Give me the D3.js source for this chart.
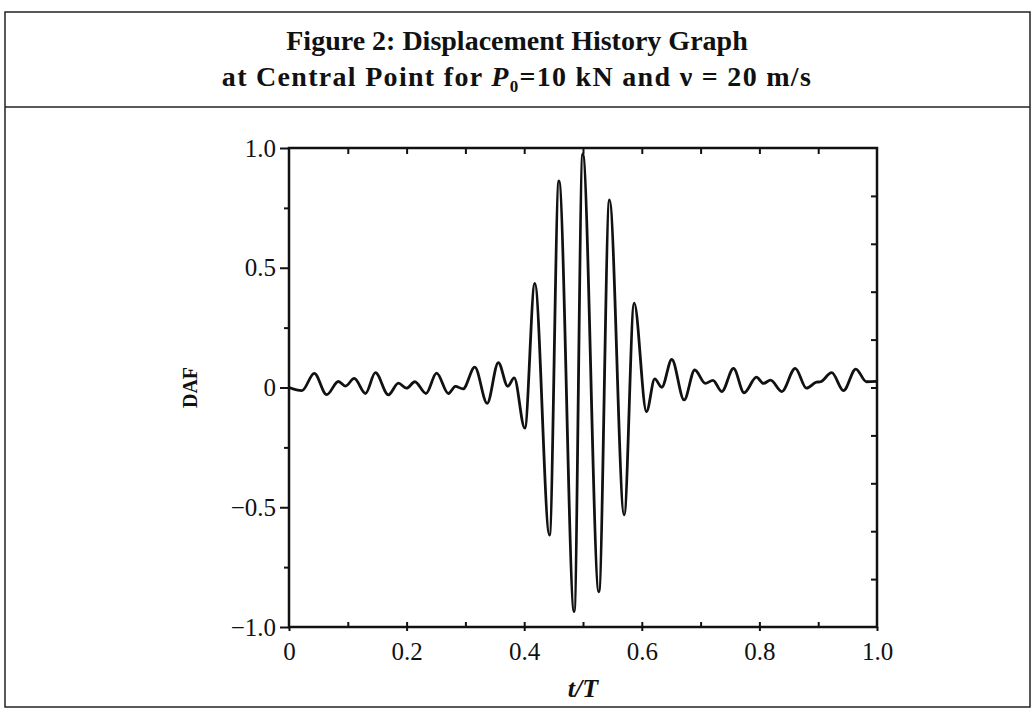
<!DOCTYPE html>
<html>
<head>
<meta charset="utf-8">
<script src="https://cdn.jsdelivr.net/npm/d3@7"></script>
<style>
    body { margin: 0; background: #fff; }
    text { font-family: "Liberation Serif", "DejaVu Serif", serif; fill: #111; }
</style>
</head>
<body>
<div id="chart"></div>
<script>
// t/T positions and DAF values (peaks and troughs)
var tValues = [0.000, 0.022, 0.043, 0.064, 0.084, 0.096, 0.111, 0.130, 0.147, 0.169,
    0.186, 0.200, 0.214, 0.233, 0.251, 0.271, 0.283, 0.296, 0.316, 0.337,
    0.356, 0.372, 0.383, 0.401, 0.418, 0.443, 0.459, 0.485, 0.4995, 0.527,
    0.545, 0.570, 0.587, 0.608, 0.622, 0.634, 0.651, 0.672, 0.690, 0.708,
    0.721, 0.736, 0.756, 0.774, 0.795, 0.807, 0.819, 0.838, 0.861, 0.880,
    0.897, 0.904, 0.923, 0.943, 0.964, 0.982, 1.000];
var dafValues = [0.000, -0.013, 0.059, -0.030, 0.025, 0.006, 0.038, -0.025, 0.062, -0.031,
    0.018, -0.003, 0.024, -0.025, 0.060, -0.025, 0.005, -0.006, 0.085, -0.066,
    0.104, 0.005, 0.040, -0.170, 0.435, -0.616, 0.863, -0.936, 0.975, -0.853,
    0.783, -0.532, 0.352, -0.101, 0.036, 0.001, 0.117, -0.052, 0.073, 0.017,
    0.030, -0.017, 0.080, -0.022, 0.043, 0.017, 0.031, -0.017, 0.080, -0.003,
    0.022, 0.024, 0.062, -0.013, 0.077, 0.024, 0.026];

var xTickLabels = [0, 0.2, 0.4, 0.6, 0.8, 1.0];
var yTickLabels = [-1.0, -0.5, 0, 0.5, 1.0];

var svgWidth = 1035;
var svgHeight = 711;

var margin = { top: 148, right: 158, bottom: 84, left: 289 };
var width = 877 - margin.left;
var height = 627 - margin.top;

var svg = d3.select("#chart")
    .append("svg")
    .attr("width", svgWidth)
    .attr("height", svgHeight);

// outer frame and title band
svg.append("rect")
    .attr("x", 5)
    .attr("y", 12)
    .attr("width", 1025)
    .attr("height", 695)
    .attr("fill", "none")
    .attr("stroke", "#222")
    .attr("stroke-width", 1.5);

svg.append("line")
    .attr("x1", 5).attr("x2", 1030)
    .attr("y1", 107).attr("y2", 107)
    .attr("stroke", "#222")
    .attr("stroke-width", 1.5);

svg.append("text")
    .attr("x", 517)
    .attr("y", 50)
    .attr("text-anchor", "middle")
    .style("font-size", "28px")
    .style("font-weight", "bold")
    .text("Figure 2: Displacement History Graph");

var title2 = svg.append("text")
    .attr("x", 517)
    .attr("y", 86)
    .attr("text-anchor", "middle")
    .style("font-size", "28px")
    .style("font-weight", "bold")
    .style("letter-spacing", "1.3px");
title2.append("tspan").text("at Central Point for ");
title2.append("tspan").style("font-style", "italic").text("P");
title2.append("tspan").attr("dy", 6).style("font-size", "17px").text("0");
title2.append("tspan").attr("dy", -6).text("=10 kN and ν = 20 m/s");

var chartGroup = svg.append("g")
    .attr("transform", `translate(${margin.left}, ${margin.top})`);

// Scales
var xScale = d3.scaleLinear().domain([0, 1]).range([0, width]);
var yScale = d3.scaleLinear().domain([-1, 1]).range([height, 0]);

// Axes
var leftMinor = d3.axisLeft(yScale)
    .tickValues([-0.75, -0.25, 0.25, 0.75])
    .tickSize(5)
    .tickFormat("");
var leftAxis = d3.axisLeft(yScale)
    .tickValues(yTickLabels)
    .tickSize(9)
    .tickPadding(4)
    .tickFormat(d => d === 0 ? "0" : d3.format(".1f")(d).replace("-", "−"));
var bottomMinor = d3.axisBottom(xScale)
    .tickValues(d3.range(1, 10).map(i => i / 10))
    .tickSize(-5)
    .tickFormat("");
var bottomAxis = d3.axisBottom(xScale)
    .tickValues(xTickLabels)
    .tickSize(4)
    .tickPadding(11)
    .tickFormat(d => d === 0 ? "0" : d3.format(".1f")(d));
var topAxis = d3.axisTop(xScale)
    .tickValues(d3.range(1, 10).map(i => i / 10))
    .tickSize(-6)
    .tickFormat("");
var rightAxis = d3.axisRight(yScale)
    .tickValues([-0.8, -0.6, -0.4, -0.2, 0, 0.2, 0.4, 0.6, 0.8])
    .tickSize(-6)
    .tickFormat("");

chartGroup.append("g").attr("class", "axis").call(leftMinor);
chartGroup.append("g").attr("class", "axis").call(leftAxis);
chartGroup.append("g").attr("class", "axis")
    .attr("transform", `translate(0, ${height})`).call(bottomMinor);
chartGroup.append("g").attr("class", "axis")
    .attr("transform", `translate(0, ${height})`).call(bottomAxis);
chartGroup.append("g").attr("class", "axis").call(topAxis);
chartGroup.append("g").attr("class", "axis")
    .attr("transform", `translate(${width}, 0)`).call(rightAxis);

chartGroup.selectAll(".axis path").remove();
chartGroup.selectAll(".axis line")
    .attr("stroke", "#111")
    .attr("stroke-width", 2);
chartGroup.selectAll(".axis text")
    .attr("font-size", null)
    .style("font-size", "25px")
    .style("font-family", "'Liberation Serif', serif")
    .attr("fill", "#111");

// plot frame
chartGroup.append("rect")
    .attr("x", 0).attr("y", 0)
    .attr("width", width).attr("height", height)
    .attr("fill", "none")
    .attr("stroke", "#111")
    .attr("stroke-width", 2.5);

// the curve
var points = tValues.map((t, i) => [t, dafValues[i]]);
var line = d3.line()
    .x(d => xScale(d[0]))
    .y(d => yScale(d[1]))
    .curve(d3.curveMonotoneX);

chartGroup.append("path")
    .datum(points)
    .attr("d", line)
    .attr("fill", "none")
    .attr("stroke", "#111")
    .attr("stroke-width", 2.8)
    .attr("stroke-linejoin", "round");

// axis labels
chartGroup.append("text")
    .attr("transform", `translate(${-92}, ${height / 2}) rotate(-90)`)
    .attr("text-anchor", "middle")
    .style("font-size", "20px")
    .style("font-weight", "bold")
    .text("DAF");

chartGroup.append("text")
    .attr("x", width / 2)
    .attr("y", height + 70)
    .attr("text-anchor", "middle")
    .style("font-size", "26px")
    .style("font-weight", "bold")
    .style("font-style", "italic")
    .text("t/T");
</script>
</body>
</html>
